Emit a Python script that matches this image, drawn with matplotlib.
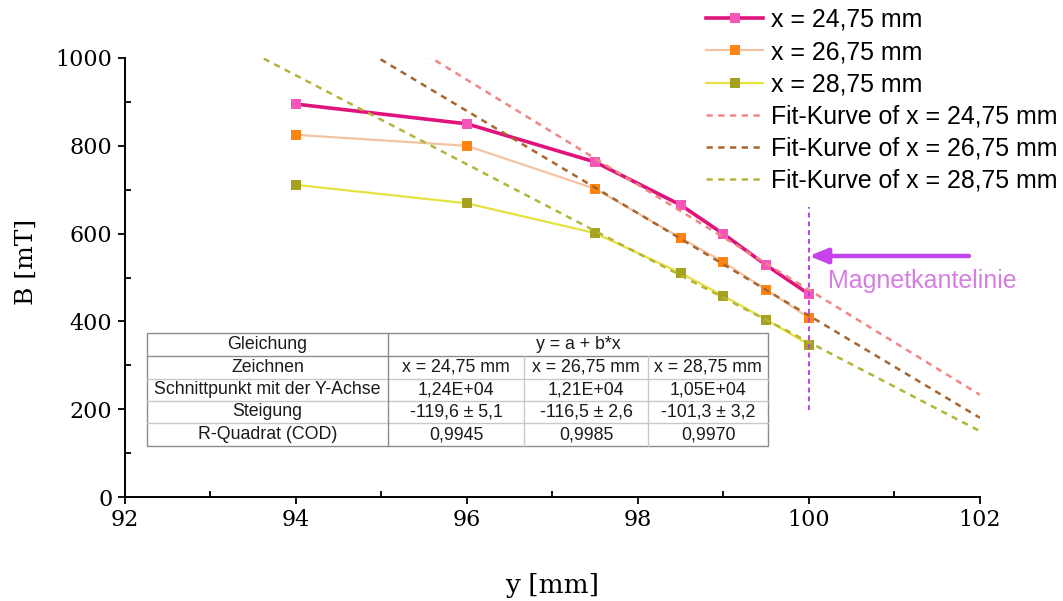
import numpy as np
import matplotlib.pyplot as plt
from matplotlib.lines import Line2D
from matplotlib.ticker import MultipleLocator

# measured field along y for three x positions
y_pos = [94, 96, 97.5, 98.5, 99, 99.5, 100]
b_2475 = [895, 850, 763, 665, 599, 528, 462]
b_2675 = [825, 800, 702, 590, 535, 472, 408]
b_2875 = [711, 669, 601, 510, 458, 404, 347]

labels = ["x = 24,75 mm", "x = 26,75 mm", "x = 28,75 mm"]

# linear fit results (fit over the last five points, y >= 97.5)
fit_start = 2
intercepts = ["1,24E+04", "1,21E+04", "1,05E+04"]
slopes = [-119.6, -116.5, -101.3]
slope_err = [5.1, 2.6, 3.2]
r_squared = ["0,9945", "0,9985", "0,9970"]

edge_y = 100  # magnet edge position

line_cols = ["#e0137c", "#f2c4a4", "#e4e23e"]
mark_cols = ["#f556b8", "#ff8410", "#a4a21e"]
fit_cols = ["#ee8888", "#a8652e", "#b4b43a"]
line_w = [2.6, 1.6, 1.6]

W, H = 1063, 601
fig = plt.figure(figsize=(W / 100, H / 100), dpi=100)
ax = fig.add_axes([125 / W, 1 - 497 / H, 855 / W, 439 / H])

series = [b_2475, b_2675, b_2875]
handles = []
for i, b in enumerate(series):
    h, = ax.plot(y_pos, b, color=line_cols[i], lw=line_w[i], marker="s",
                 markersize=7.5, markerfacecolor=mark_cols[i],
                 markeredgewidth=0, zorder=2, label=labels[i])
    handles.append(h)

xs = np.array(y_pos[fit_start:])
xx = np.array([92, 102])
for i, b in enumerate(series):
    ys = np.array(b[fit_start:])
    a = ys.mean() - slopes[i] * xs.mean()
    h, = ax.plot(xx, a + slopes[i] * xx, color=fit_cols[i], lw=1.8,
                 ls=(0, (2.5, 2.2)), zorder=3,
                 label="Fit-Kurve of " + labels[i])
    handles.append(h)

# magnet edge marker and arrow
ax.plot([edge_y, edge_y], [198, 660], color="#c43ce8", lw=1.4,
        ls=(0, (2.5, 2)), zorder=5)
ax.annotate("", xy=(edge_y, 549), xytext=(101.87, 549),
            arrowprops=dict(arrowstyle="-|>,head_length=1.1,head_width=0.45",
                            color="#c443ea", lw=3.2, shrinkA=0, shrinkB=0),
            annotation_clip=False)
ax.text(100.22, 492, "Magnetkantelinie", color="#d67ee2", fontsize=18,
        family="Liberation Sans", va="center", ha="left")

ax.set_xlim(92, 102)
ax.set_ylim(0, 1000)
ax.xaxis.set_major_locator(MultipleLocator(2))
ax.xaxis.set_minor_locator(MultipleLocator(1))
ax.yaxis.set_major_locator(MultipleLocator(200))
ax.yaxis.set_minor_locator(MultipleLocator(100))
ax.tick_params(which="major", direction="out", length=5, width=1.3,
               labelsize=16, pad=4)
ax.tick_params(which="minor", direction="in", length=4, width=1.3)
for lbl in ax.get_xticklabels() + ax.get_yticklabels():
    lbl.set_family("DejaVu Serif")
for s in ["top", "right"]:
    ax.spines[s].set_visible(False)
for s in ["left", "bottom"]:
    ax.spines[s].set_linewidth(1.4)

ax.set_xlabel("y [mm]", family="DejaVu Serif", fontsize=19, labelpad=30)
ax.set_ylabel("B [mT]", family="DejaVu Serif", fontsize=18)
ax.yaxis.set_label_coords(-0.102, 0.535)

fig.legend(handles=handles, loc="upper left",
           bbox_to_anchor=(696 / W, 1 + 2 / H), frameon=False,
           prop=dict(family="Liberation Sans", size=17.9),
           handlelength=2.3, handletextpad=0.3, labelspacing=0.33,
           borderaxespad=0)

# parameter table
cols_px = [147, 388, 524, 648, 768]
rows_px = [333, 356, 379, 401, 423, 446]


def fx(px):
    return px / W


def fy(py):
    return 1 - py / H


fig.patches.append(plt.Rectangle((fx(cols_px[0]), fy(rows_px[-1])),
                                 fx(cols_px[-1] - cols_px[0]),
                                 (rows_px[-1] - rows_px[0]) / H,
                                 transform=fig.transFigure, facecolor="white",
                                 edgecolor="#8c8c8c", lw=1.0, zorder=6))
grid_c = "#c8c8c8"
for k, r in enumerate(rows_px[1:-1]):
    c = "#8c8c8c" if k == 0 else grid_c
    fig.add_artist(Line2D([fx(cols_px[0]), fx(cols_px[-1])], [fy(r), fy(r)],
                          color=c, lw=1.0, zorder=7))
fig.add_artist(Line2D([fx(cols_px[1])] * 2, [fy(rows_px[0]), fy(rows_px[-1])],
                      color="#8c8c8c", lw=1.0, zorder=7))
for c in cols_px[2:-1]:
    fig.add_artist(Line2D([fx(c)] * 2, [fy(rows_px[1]), fy(rows_px[-1])],
                          color=grid_c, lw=1.0, zorder=7))

cells = [
    ["Gleichung", "y = a + b*x"],
    ["Zeichnen"] + labels,
    ["Schnittpunkt mit der Y-Achse"] + intercepts,
    ["Steigung"] + [f"{s:.1f} ± {e:.1f}".replace(".", ",")
                    for s, e in zip(slopes, slope_err)],
    ["R-Quadrat (COD)"] + r_squared,
]
for r, row in enumerate(cells):
    yc = fy((rows_px[r] + rows_px[r + 1]) / 2)
    for c, txt in enumerate(row):
        if r == 0 and c == 1:
            xc = fx((cols_px[1] + cols_px[-1]) / 2)
        else:
            xc = fx((cols_px[c] + cols_px[c + 1]) / 2)
        fig.text(xc, yc, txt, ha="center", va="center", fontsize=12.8,
                 family="Liberation Sans", color="#1a1a1a", zorder=8)

fig.savefig("out.png", dpi=100)
